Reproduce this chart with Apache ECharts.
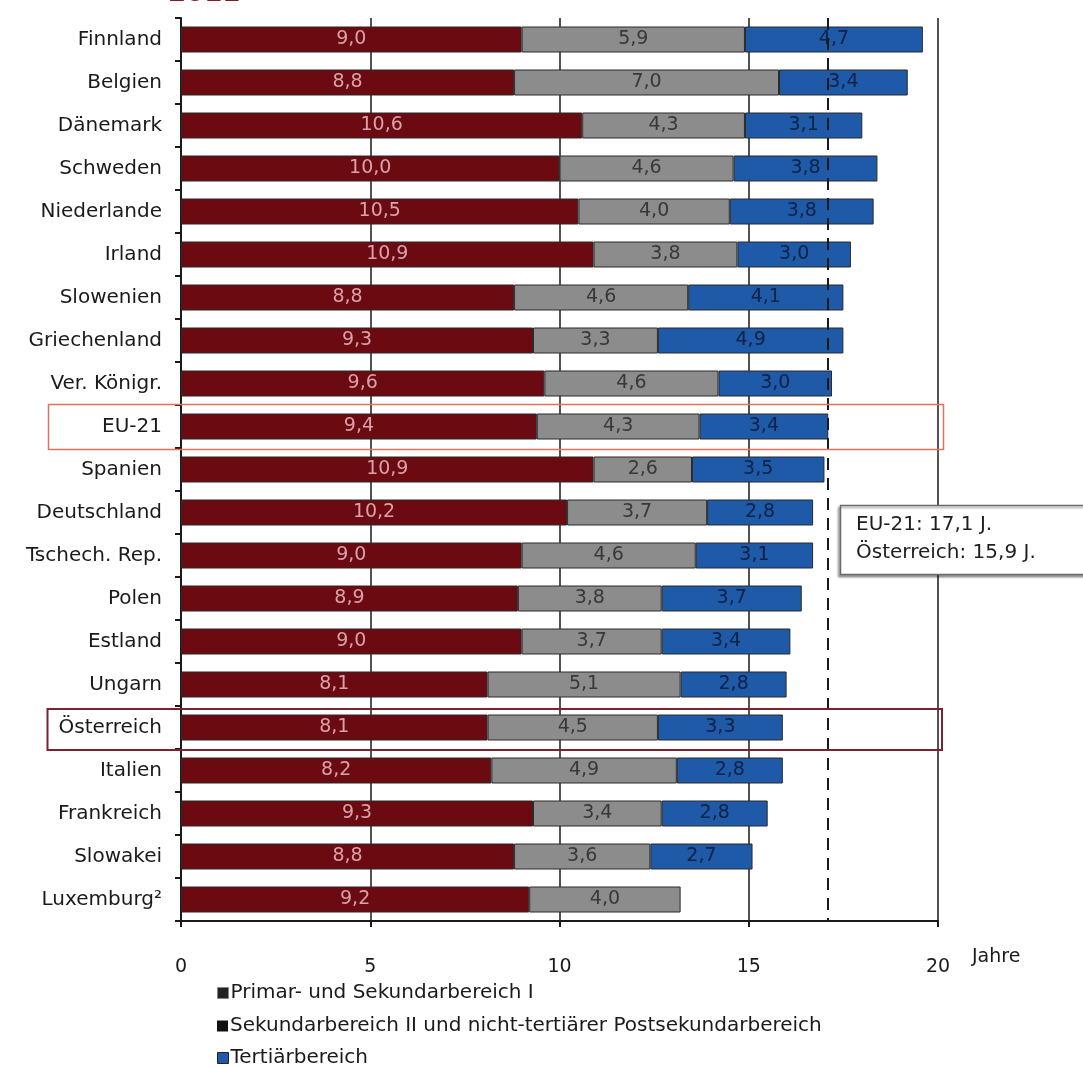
<!DOCTYPE html>
<html>
<head>
<meta charset="utf-8">
<script src="https://cdn.jsdelivr.net/npm/echarts@6/dist/echarts.min.js"></script>
<style>
  html, body { margin: 0; padding: 0; background: #fff; }
  #chart { width: 1083px; height: 1067px; }
</style>
</head>
<body>
<div id="chart"></div>
<script>
// Expected years of education by level, 2011
const countries = ['Finnland', 'Belgien', 'Dänemark', 'Schweden', 'Niederlande', 'Irland', 'Slowenien',
  'Griechenland', 'Ver. Königr.', 'EU-21', 'Spanien', 'Deutschland', 'Tschech. Rep.', 'Polen',
  'Estland', 'Ungarn', 'Österreich', 'Italien', 'Frankreich', 'Slowakei', 'Luxemburg²'];
const primarSekI = [9.0, 8.8, 10.6, 10.0, 10.5, 10.9, 8.8, 9.3, 9.6, 9.4, 10.9, 10.2, 9.0, 8.9, 9.0, 8.1, 8.1, 8.2, 9.3, 8.8, 9.2];
const sekII = [5.9, 7.0, 4.3, 4.6, 4.0, 3.8, 4.6, 3.3, 4.6, 4.3, 2.6, 3.7, 4.6, 3.8, 3.7, 5.1, 4.5, 4.9, 3.4, 3.6, 4.0];
const tertiaer = [4.7, 3.4, 3.1, 3.8, 3.8, 3.0, 4.1, 4.9, 3.0, 3.4, 3.5, 2.8, 3.1, 3.7, 3.4, 2.8, 3.3, 2.8, 2.8, 2.7, null];
const seriesNames = ['Primar- und Sekundarbereich I', 'Sekundarbereich II und nicht-tertiärer Postsekundarbereich', 'Tertiärbereich'];
const xTicks = [0, 5, 10, 15, 20];
const euAverage = 17.1;
const noteLines = ['EU-21: 17,1 J.', 'Österreich: 15,9 J.'];

const FONT = 'DejaVu Sans, Verdana, sans-serif';
const fmtVal = p => p.value == null ? '' : p.value.toFixed(1).replace('.', ',');

const chart = echarts.init(document.getElementById('chart'), null, { renderer: 'canvas' });

function barSeries(name, data, color, labelColor) {
  return {
    name: name,
    type: 'bar',
    stack: 'total',
    data: data,
    barWidth: 26,
    itemStyle: { color: color, borderColor: '#2a2a2a', borderWidth: 1 },
    label: {
      show: true,
      position: 'inside',
      formatter: fmtVal,
      color: labelColor,
      fontFamily: FONT,
      fontSize: 19
    },
    emphasis: { disabled: true },
    z: 2
  };
}

const s1 = barSeries(seriesNames[0], primarSekI, '#6c0a12', '#d9a2aa');
const s2 = barSeries(seriesNames[1], sekII, '#8c8c8c', '#383838');
const s3 = barSeries(seriesNames[2], tertiaer, '#1f5aa8', '#0e2244');
s3.markLine = {
  silent: true,
  symbol: 'none',
  label: { show: false },
  lineStyle: { color: '#1a1a1a', type: [12, 8], width: 2 },
  data: [{ xAxis: euAverage }],
  z: 5
};

// one legend block per series, stacked under the axis
const legendIcons = [
  { color: '#222', borderColor: '#888', borderWidth: 1 },
  { color: '#111', borderWidth: 0 },
  { color: '#1f5aa8', borderColor: '#222', borderWidth: 1 }
];
const legendTops = [978, 1011, 1043];
const legends = seriesNames.map((n, i) => ({
  left: 212,
  top: legendTops[i],
  itemWidth: 11,
  itemHeight: 11,
  icon: 'rect',
  selectedMode: false,
  textStyle: { fontFamily: FONT, fontSize: 20, color: '#1a1a1a', padding: [0, 0, 0, -3] },
  data: [{ name: n, itemStyle: legendIcons[i] }]
}));

chart.setOption({
  animation: false,
  backgroundColor: '#ffffff',
  grid: { left: 181, right: 145, top: 18, bottom: 146 },
  legend: legends,
  xAxis: {
    type: 'value',
    min: xTicks[0],
    max: xTicks[xTicks.length - 1],
    interval: 5,
    axisLine: { show: true, lineStyle: { color: '#1a1a1a', width: 2 } },
    axisTick: { show: true, length: 6, lineStyle: { color: '#1a1a1a', width: 2 } },
    axisLabel: { color: '#1a1a1a', fontFamily: FONT, fontSize: 19, margin: 37 },
    splitLine: { show: true, lineStyle: { color: '#1a1a1a', width: 1.5 } }
  },
  yAxis: {
    type: 'category',
    data: countries,
    inverse: true,
    axisLine: { show: true, lineStyle: { color: '#1a1a1a', width: 2 } },
    axisTick: { show: true, length: 6, lineStyle: { color: '#1a1a1a', width: 2 } },
    axisLabel: { color: '#1a1a1a', fontFamily: FONT, fontSize: 20, margin: 19 },
    splitLine: { show: false }
  },
  series: [s1, s2, s3],
  graphic: [
    {
      type: 'text', left: 168, top: -19, z: 10,
      style: { text: '2011', fill: '#8a1a22', font: 'bold 26px ' + FONT }
    },
    {
      type: 'rect', shape: { x: 48.5, y: 404.5, width: 895, height: 45 }, z: 10,
      style: { fill: 'none', stroke: '#e0705f', lineWidth: 1.5 }
    },
    {
      type: 'rect', shape: { x: 47.5, y: 709, width: 894.5, height: 41 }, z: 10,
      style: { fill: 'none', stroke: '#7a2232', lineWidth: 2 }
    },
    {
      type: 'rect', shape: { x: 840.5, y: 505.5, width: 260, height: 69 }, z: 10,
      style: { fill: '#ffffff', stroke: '#6a6a6a', lineWidth: 1.5,
        shadowColor: 'rgba(0,0,0,0.35)', shadowOffsetX: -2, shadowOffsetY: 2, shadowBlur: 2 }
    },
    {
      type: 'text', x: 856, y: 511, z: 11,
      style: { text: noteLines.join('\n'), fill: '#1e1e1e', font: '20px ' + FONT, lineHeight: 28 }
    },
    {
      type: 'text', x: 972, y: 948, z: 11,
      style: { text: 'Jahre', fill: '#1a1a1a', font: '19px ' + FONT }
    }
  ]
});
</script>
</body>
</html>
